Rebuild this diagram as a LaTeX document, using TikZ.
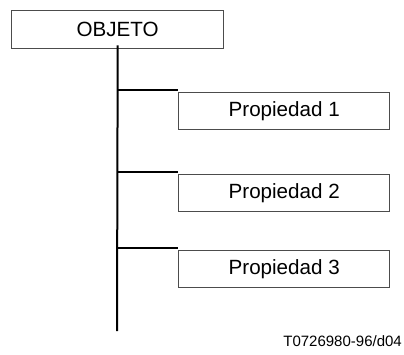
\documentclass[tikz,border=0pt]{standalone}
\usepackage{fontspec}
\setmainfont{Liberation Sans}
\begin{document}
\begin{tikzpicture}[x=1pt,y=-1pt,
  box/.style={draw=black!70, line width=1.4pt, inner sep=0pt,
    font=\fontsize{20.6}{23}\selectfont},
  objbox/.style={box, minimum width=212pt, minimum height=38pt},
  propbox/.style={box, minimum width=211pt, minimum height=37pt},
  conn/.style={line width=2pt},
  foot/.style={font=\fontsize{15}{17}\selectfont, inner sep=0pt}]
\useasboundingbox (0,0) rectangle (404,354);
\node[objbox, anchor=north west] (obj) at (11,10) {OBJETO};
\node[propbox, anchor=north west] (p1) at (178,92) {Propiedad 1};
\node[propbox, anchor=north west] (p2) at (178,174) {Propiedad 2};
\node[propbox, anchor=north west] (p3) at (178,250) {Propiedad 3};
\coordinate (bot) at (117,331);
\coordinate (b1) at (117,89.5);
\coordinate (b2) at (117,171.5);
\coordinate (b3) at (117,247.5);
\draw[conn] ([yshift=4pt]obj.south) -- (bot);
\draw[conn] (b1) -- (p1.north west |- b1);
\draw[conn] (b2) -- (p2.north west |- b2);
\draw[conn] (b3) -- (p3.north west |- b3);
\node[foot, anchor=base east] (fn) at (402,346) {T0726980-96/d04};
\end{tikzpicture}
\end{document}
